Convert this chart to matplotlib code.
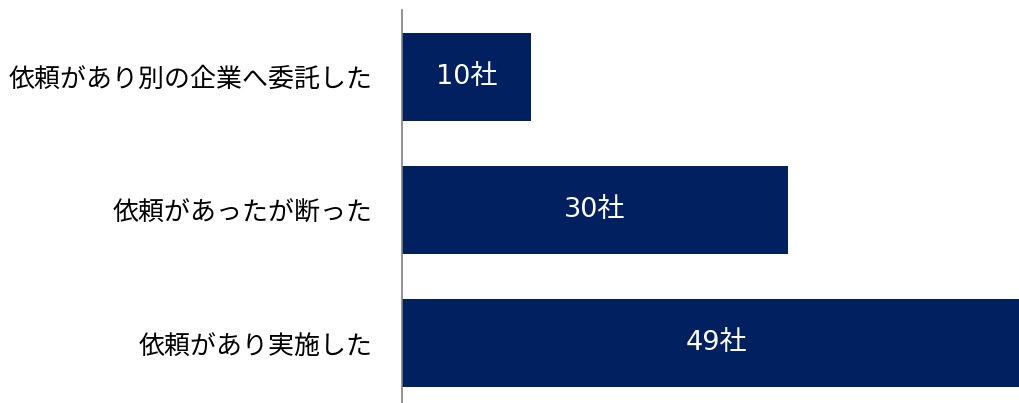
import matplotlib.pyplot as plt

plt.rcParams['font.family'] = ['Noto Sans CJK JP', 'DejaVu Sans']

categories = ['依頼があり別の企業へ委託した', '依頼があったが断った', '依頼があり実施した']
values = [10, 30, 49]
value_labels = ['10社', '30社', '49社']

fig = plt.figure(figsize=(10.19, 4.03), dpi=100)
ax = fig.add_axes([402 / 1019, (403 - 410) / 403, (1019 - 402) / 1019, 400 / 403])

y = range(len(categories))
bars = ax.barh(y, values, height=0.66, color='#002060')

# 数値ラベル（バーの中央）
for b, lab in zip(bars, value_labels):
    ax.text(b.get_width() / 2, b.get_y() + b.get_height() / 2, lab,
            ha='center', va='center', color='white', fontsize=19.5,
            family=['DejaVu Sans', 'Noto Sans CJK JP'])

ax.set_xlim(0, 48.0)
ax.set_ylim(2.5, -0.5)
ax.set_yticks(list(y))
ax.set_yticklabels(categories, fontsize=18.7)
ax.tick_params(axis='y', length=0, pad=21)
ax.set_xticks([])
for s in ['top', 'right', 'bottom']:
    ax.spines[s].set_visible(False)
ax.spines['left'].set_color('#808080')
ax.spines['left'].set_linewidth(1.2)

fig.savefig('out.png', dpi=100)
